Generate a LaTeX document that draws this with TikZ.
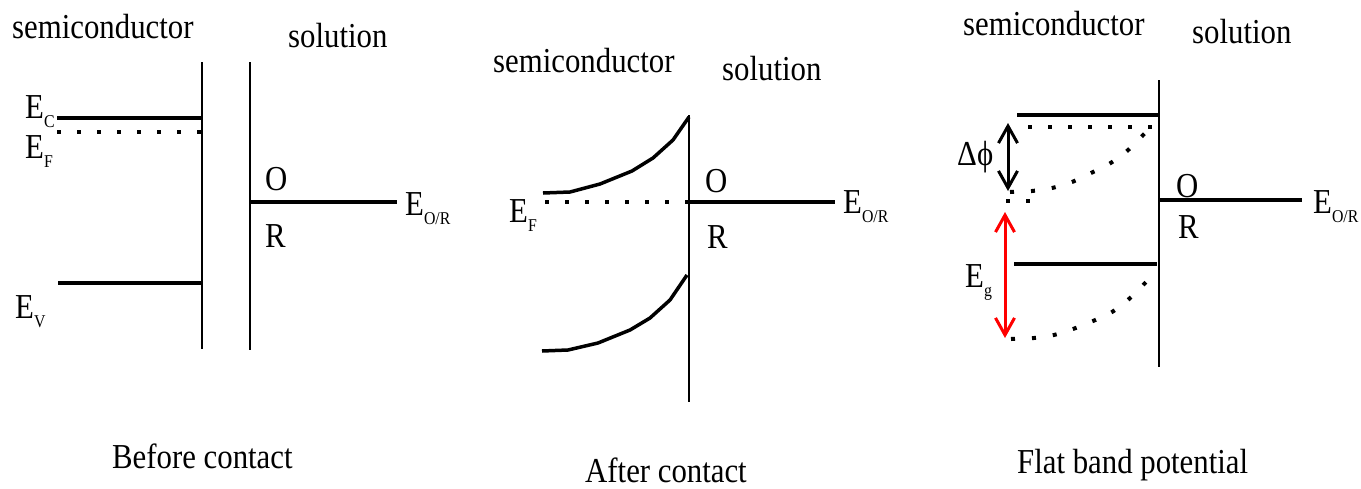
\documentclass[tikz,border=0pt]{standalone}
\usepackage{fontspec}
\setmainfont{Liberation Serif}[FakeStretch=0.88]
\usetikzlibrary{arrows.meta}
\newcommand{\En}[1]{E\raisebox{-9pt}{\fontsize{18pt}{20pt}\selectfont #1}}
\tikzset{
  lbl/.style={inner sep=0pt, anchor=base west, font=\fontsize{35pt}{40pt}\selectfont},
  band/.style={line width=3.5pt},
  wall/.style={line width=1.8pt},
  dotline/.style={line width=4pt, dash pattern=on 4pt off 16pt},
  dotcurve/.style={line width=4pt, dash pattern=on 4pt off 17pt},
  dbl/.style={line width=3pt, {Straight Barb[length=17pt,width=19pt]}-{Straight Barb[length=17pt,width=19pt]}}
}
\begin{document}
\begin{tikzpicture}[x=1pt,y=-1pt]
\useasboundingbox (0,0) rectangle (1361,488);

% ---------------- Panel 1: Before contact ----------------
\node[lbl] (sc1) at (12,38) {semiconductor};
\node[lbl] (so1) at (288,47) {solution};
\coordinate (w1t) at (202,62); \coordinate (w1b) at (202,349);
\coordinate (w2t) at (250,62); \coordinate (w2b) at (250,350);
\draw[wall] (w1t) -- (w1b);
\draw[wall] (w2t) -- (w2b);
\coordinate (ec1) at (57,118); \coordinate (ec1r) at (202,118);
\draw[band] (ec1) -- (ec1r);
\coordinate (ef1) at (57,132); \coordinate (ef1r) at (204,132);
\draw[dotline] (ef1) -- (ef1r);
\coordinate (ev1) at (58,283); \coordinate (ev1r) at (203,283);
\draw[band] (ev1) -- (ev1r);
\coordinate (eor1) at (251,202); \coordinate (eor1r) at (397,202);
\draw[band] (eor1) -- (eor1r);
\node[lbl] (lEC) at (25,118) {\En{C}};
\node[lbl] (lEF1) at (25,158) {\En{F}};
\node[lbl] (lEV) at (15,318) {\En{V}};
\node[lbl] (lEOR1) at (405,215) {\En{O/R}};
\node[lbl] (O1) at (265,190) {O};
\node[lbl] (R1) at (265,247) {R};
\node[lbl] (cap1) at (112,468) {Before contact};

% ---------------- Panel 2: After contact ----------------
\node[lbl] (sc2) at (493,72) {semiconductor};
\node[lbl] (so2) at (722,80) {solution};
\coordinate (w3t) at (689,115); \coordinate (w3b) at (689,402);
\draw[wall] (w3t) -- (w3b);
\draw[band, line join=round] plot coordinates {(543,193) (570,192) (600,184) (632,171) (653,158) (673,140) (689,117)};
\draw[band, line join=round] plot coordinates {(542,351) (568,350) (598,343) (630,330) (650,318) (670,300) (687,275)};
\coordinate (ef2) at (545,202); \coordinate (ef2r) at (690,202);
\draw[dotline] (ef2) -- (ef2r);
\coordinate (eor2) at (689,202); \coordinate (eor2r) at (835,202);
\draw[band] (eor2) -- (eor2r);
\node[lbl] (lEF2) at (509,222) {\En{F}};
\node[lbl] (lEOR2) at (843,213) {\En{O/R}};
\node[lbl] (O2) at (705,192) {O};
\node[lbl] (R2) at (707,248) {R};
\node[lbl] (cap2) at (585,482) {After contact};

% ---------------- Panel 3: Flat band potential ----------------
\node[lbl] (sc3) at (963,35) {semiconductor};
\node[lbl] (so3) at (1192,43) {solution};
\coordinate (w4t) at (1159,80); \coordinate (w4b) at (1159,367);
\draw[wall] (w4t) -- (w4b);
\coordinate (cb3) at (1017,115); \coordinate (cb3r) at (1159,115);
\draw[band] (cb3) -- (cb3r);
\coordinate (vb3) at (1014,264); \coordinate (vb3r) at (1157,264);
\draw[band] (vb3) -- (vb3r);
\coordinate (dt3) at (1028,127); \coordinate (dt3r) at (1153,127);
\draw[dotline] (dt3) -- (dt3r);
\draw[dotcurve] plot[smooth] coordinates {(1010,192) (1032,191) (1052,188) (1072,182) (1091,173) (1109,164) (1127,151) (1146,132)};
\coordinate (df3) at (1006,201); \coordinate (df3r) at (1030,201);
\draw[dotline] (df3) -- (df3r);
\draw[dotcurve] plot[smooth] coordinates {(1011,339) (1034,338) (1054,335) (1073,329) (1093,321) (1112,312) (1129,299) (1148,280)};
\coordinate (eor3) at (1159,200); \coordinate (eor3r) at (1302,200);
\draw[band] (eor3) -- (eor3r);
\coordinate (dpt) at (1008,123); \coordinate (dpb) at (1008,191);
\draw[dbl] (dpt) -- (dpb);
\coordinate (egt) at (1005,212); \coordinate (egb) at (1005,338);
\draw[dbl, red] (egt) -- (egb);
\node[lbl] (ldphi) at (957,165) {Δ\char"03D5};
\node[lbl] (lEg) at (965,287) {\En{g}};
\node[lbl] (lEOR3) at (1313,213) {\En{O/R}};
\node[lbl] (O3) at (1176,197) {O};
\node[lbl] (R3) at (1178,238) {R};
\node[lbl] (cap3) at (1017,473) {Flat band potential};
\end{tikzpicture}
\end{document}
